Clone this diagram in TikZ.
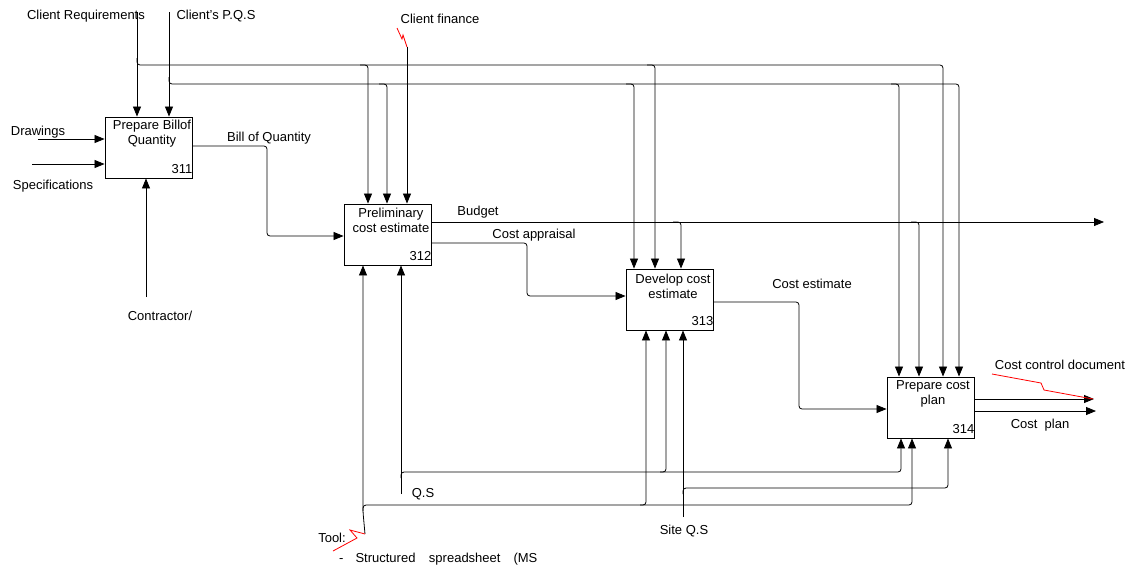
\documentclass[tikz,border=0pt]{standalone}
\usepackage{fontspec}
\setmainfont{Liberation Sans}
\usetikzlibrary{arrows.meta}
\begin{document}
\begin{tikzpicture}[x=1pt,y=-1pt,
 ln/.style={line width=0.8pt, rounded corners=3pt},
 arr/.style={ln, -{Triangle[length=10pt,width=8pt]}},
 redln/.style={red, line width=0.8pt},
 box/.style={draw, line width=0.9pt, minimum width=87pt, minimum height=61pt, inner sep=0pt},
 lbl/.style={inner sep=0pt, anchor=base, font=\fontsize{13}{15.5}\selectfont},
 btxt/.style={inner sep=0pt, align=center, font=\fontsize{13}{15}\selectfont},
 num/.style={inner sep=0pt, anchor=base east, font=\fontsize{13}{15}\selectfont}]
\useasboundingbox (0,0) rectangle (1142,566);
\fill[white] (0,0) rectangle (1142,566);

% boxes
\node[box] (b311) at (148.5,147.5) {};
\node[box] (b312) at (387.5,234.5) {};
\node[box] (b313) at (669.5,299.5) {};
\node[box] (b314) at (930.5,407.5) {};

\node[btxt] (t311) at (152,133.5) {Prepare Billof\\Quantity};
\node[btxt] (t312) at (391,220.5) {Preliminary\\cost estimate};
\node[btxt] (t313) at (673,286) {Develop cost\\estimate};
\node[btxt] (t314) at (933,394) {Prepare cost\\plan};
\node[num] (n311) at ([yshift=5pt]b311.south east) {311};
\node[num] (n312) at ([yshift=5pt]b312.south east) {312};
\node[num] (n313) at ([yshift=5pt]b313.south east) {313};
\node[num] (n314) at ([yshift=5pt]b314.south east) {314};

% labels
\node[lbl] (lcr) at (86,19.5) {Client Requirements};
\node[lbl] (lcp) at (216,19.5) {Client's P.Q.S};
\node[lbl] (lcf) at (440,23.5) {Client finance};
\node[lbl] (ldr) at (38,135.5) {Drawings};
\node[lbl] (lsp) at (53,189.5) {Specifications};
\node[lbl] (lco) at (160,320.5) {Contractor/};
\node[lbl] (lbq) at (269,141.5) {Bill of Quantity};
\node[lbl] (lbu) at (478,215.5) {Budget};
\node[lbl] (lca) at (534,238.5) {Cost appraisal};
\node[lbl] (lce) at (812,288.5) {Cost estimate};
\node[lbl] (lccd) at (1060,369.5) {Cost control document};
\node[lbl] (lcpl) at (1040,428.5) {Cost\ \ plan};
\node[lbl] (lqs) at (423,497.5) {Q.S};
\node[lbl] (lsqs) at (684,534.5) {Site Q.S};
\node[lbl] (ltool) at (332,542.5) {Tool:};
\node[lbl, anchor=base west] (lss) at (339,562) {-\hspace{12pt}Structured\hspace{13.5pt}spreadsheet\hspace{13pt}(MS};

% top controls
\coordinate (crs) at (137,12);
\coordinate (cps) at (169,12);
\draw[arr] (crs) -- (137,0 |- b311.north);
\draw[arr] (cps) -- (169,0 |- b311.north);
\draw[arr] (137,58) -- (137,65) -- (943,65) -- (943,0 |- b314.north);
\draw[arr] (360,65) -- (368,65) -- (368,0 |- b312.north);
\draw[arr] (647,65) -- (655,65) -- (655,0 |- b313.north);
\draw[arr] (169,77) -- (169,84) -- (959,84) -- (959,0 |- b314.north);
\draw[arr] (379,84) -- (387,84) -- (387,0 |- b312.north);
\draw[arr] (626,84) -- (634,84) -- (634,0 |- b313.north);
\draw[arr] (891,84) -- (899,84) -- (899,0 |- b314.north);

% client finance
\coordinate (cfs) at (407,47);
\draw[arr] (cfs) -- (407,0 |- b312.north);
\draw[redln] (397,28) -- (402,39) -- (403,35) -- (cfs);

% inputs of 311
\coordinate (drs) at (38,139);
\coordinate (sps) at (32,164);
\coordinate (cos) at (146,297);
\draw[arr] (drs) -- (b311.west |- 0,139);
\draw[arr] (sps) -- (b311.west |- 0,164);
\draw[arr] (cos) -- (146,0 |- b311.south);

% flows between boxes
\draw[arr] (b311.east |- 0,146) -- (267,146) -- (267,236) -- (b312.west |- 0,236);
\draw[arr] (b312.east |- 0,222) -- (1104,222);
\draw[arr] (673,222) -- (681,222) -- (681,0 |- b313.north);
\draw[arr] (911,222) -- (919,222) -- (919,0 |- b314.north);
\draw[arr] (b312.east |- 0,243) -- (527,243) -- (527,296) -- (b313.west |- 0,296);
\draw[arr] (b313.east |- 0,302) -- (799,302) -- (799,409) -- (b314.west |- 0,409);

% outputs of 314
\draw[arr] (b314.east |- 0,399) -- (1094,399);
\draw[arr] (b314.east |- 0,411) -- (1096,411);
\draw[redln] (992,374) -- (1041,383) -- (1044,390) -- (1093,399);

% tool mechanism
\coordinate (tls) at (365,534);
\draw[arr] (tls) -- (363,512) -- (363,0 |- b312.south);
\draw[arr] (363,511) -- (363,505) -- (646,505) -- (646,0 |- b313.south);
\draw[arr] (640,505) -- (912,505) -- (912,0 |- b314.south);
\draw[redln] (tls) -- (350,530) -- (357,538) -- (333,551);

% Q.S mechanism
\coordinate (qss) at (401,494);
\draw[arr] (qss) -- (401,0 |- b312.south);
\draw[arr] (401,478) -- (401,472) -- (666,472) -- (666,0 |- b313.south);
\draw[arr] (660,472) -- (901,472) -- (901,0 |- b314.south);

% Site Q.S mechanism
\coordinate (sqs) at (683,517);
\draw[arr] (sqs) -- (683,0 |- b313.south);
\draw[arr] (683,494) -- (683,488) -- (948,488) -- (948,0 |- b314.south);
\end{tikzpicture}
\end{document}
